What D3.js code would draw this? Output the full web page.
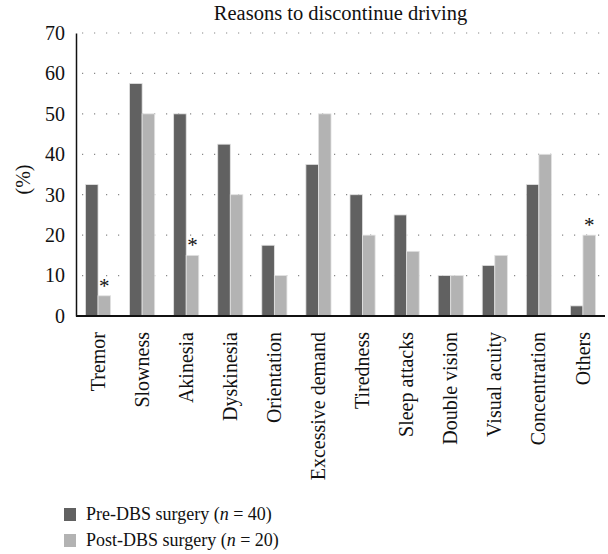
<!DOCTYPE html>
<html>
<head>
<meta charset="utf-8">
<script src="https://cdn.jsdelivr.net/npm/d3@7"></script>
<style>
  body { margin: 0; background: #fff; }
  svg text { font-family: "Liberation Serif", "DejaVu Serif", serif; fill: #111; }
</style>
</head>
<body>
<div id="chart"></div>
<script>
const categories = ["Tremor", "Slowness", "Akinesia", "Dyskinesia", "Orientation", "Excessive demand",
  "Tiredness", "Sleep attacks", "Double vision", "Visual acuity", "Concentration", "Others"];
const preDBS = [32.5, 57.5, 50, 42.5, 17.5, 37.5, 30, 25, 10, 12.5, 32.5, 2.5];
const postDBS = [5, 50, 15, 30, 10, 50, 20, 16, 10, 15, 40, 20];
const significant = ["Tremor", "Akinesia", "Others"];
const yTicks = [0, 10, 20, 30, 40, 50, 60, 70];
const seriesNames = ["Pre-DBS surgery", "Post-DBS surgery"];
const seriesN = [40, 20];
const seriesColors = ["#616161", "#b3b3b3"];

const width = 608, height = 554;
const margin = { left: 76, right: 3, top: 33, bottom: 238 };

const svg = d3.select("#chart").append("svg")
  .attr("width", width)
  .attr("height", height);

const x = d3.scaleBand()
  .domain(categories)
  .range([margin.left, width - margin.right])
  .paddingInner(0.43)
  .paddingOuter(0.215);

const sub = d3.scaleBand()
  .domain([0, 1])
  .range([0, x.bandwidth()]);

const y = d3.scaleLinear()
  .domain([0, 70])
  .range([height - margin.bottom, margin.top]);

// dotted gridlines
svg.append("g")
  .selectAll("line")
  .data(yTicks.filter(d => d > 0))
  .join("line")
  .attr("x1", margin.left + 6)
  .attr("x2", width - margin.right)
  .attr("y1", d => y(d))
  .attr("y2", d => y(d))
  .attr("stroke", "#888")
  .attr("stroke-width", 1.2)
  .attr("stroke-dasharray", "1.2,10.8");

// bars
const groups = svg.append("g")
  .selectAll("g")
  .data(categories)
  .join("g")
  .attr("transform", d => `translate(${x(d)},0)`);

groups.selectAll("rect")
  .data((d, i) => [preDBS[i], postDBS[i]])
  .join("rect")
  .attr("x", (d, j) => sub(j))
  .attr("y", d => y(d))
  .attr("width", sub.bandwidth())
  .attr("height", d => y(0) - y(d))
  .attr("fill", (d, j) => seriesColors[j])
  .attr("stroke", "#e2e2e2")
  .attr("stroke-width", 0.8);

// significance markers
svg.append("g")
  .selectAll("text")
  .data(significant)
  .join("text")
  .attr("x", d => x(d) + sub(1) + sub.bandwidth() / 2)
  .attr("y", d => y(postDBS[categories.indexOf(d)]) - 3)
  .attr("text-anchor", "middle")
  .attr("font-size", 21)
  .text("*");

// y axis
const yAxis = svg.append("g")
  .attr("transform", `translate(${margin.left},0)`)
  .call(d3.axisLeft(y).tickValues(yTicks).tickSize(0).tickPadding(11));
yAxis.select(".domain").attr("stroke", "#111").attr("stroke-width", 1.5);
yAxis.selectAll("text").attr("font-size", 20).attr("fill", "#111")
  .attr("font-family", "Liberation Serif, serif");

// x axis
const xAxis = svg.append("g")
  .attr("transform", `translate(0,${y(0)})`)
  .call(d3.axisBottom(x).tickSize(0).tickPadding(0));
xAxis.select(".domain").attr("stroke", "#111").attr("stroke-width", 2)
  .attr("d", `M${margin.left},0H${width - margin.right}`);
xAxis.selectAll("text")
  .attr("font-size", 20)
  .attr("fill", "#111")
  .attr("font-family", "Liberation Serif, serif")
  .attr("text-anchor", "end")
  .attr("transform", "rotate(-90)")
  .attr("x", -16)
  .attr("y", 0)
  .attr("dy", "0.33em");

// y label
svg.append("text")
  .attr("transform", `translate(30,${(y(0) + y(70)) / 2 + 5}) rotate(-90)`)
  .attr("text-anchor", "middle")
  .attr("font-size", 20)
  .text("(%)");

// title
svg.append("text")
  .attr("x", (margin.left + width - margin.right) / 2)
  .attr("y", 20)
  .attr("text-anchor", "middle")
  .attr("font-size", 20.5)
  .text("Reasons to discontinue driving");

// legend
const legend = svg.append("g")
  .selectAll("g")
  .data(seriesNames)
  .join("g")
  .attr("transform", (d, i) => `translate(64,${508 + i * 26})`);

legend.append("rect")
  .attr("width", 12)
  .attr("height", 13)
  .attr("fill", (d, i) => seriesColors[i]);

const lt = legend.append("text")
  .attr("x", 22)
  .attr("y", 12)
  .attr("font-size", 18);
lt.append("tspan").text(d => d + " (");
lt.append("tspan").attr("font-style", "italic").text("n");
lt.append("tspan").text((d, i) => " = " + seriesN[i] + ")");
</script>
</body>
</html>
